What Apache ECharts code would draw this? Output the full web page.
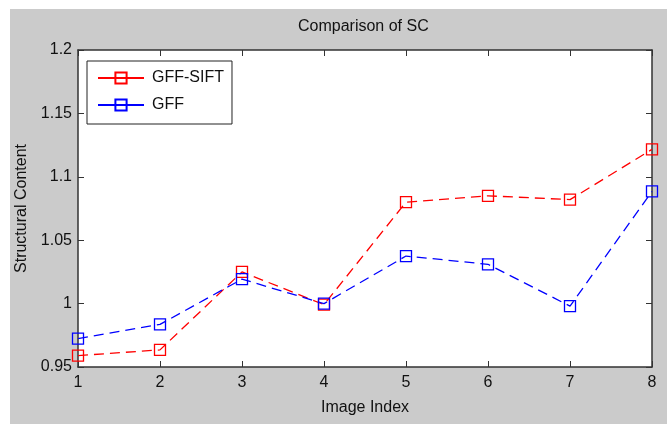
<!DOCTYPE html>
<html>
<head>
<meta charset="utf-8">
<script src="https://cdn.jsdelivr.net/npm/echarts@6/dist/echarts.min.js"></script>
<style>
  html, body { margin: 0; padding: 0; background: #fff; }
  #chart { position: absolute; left: 10px; top: 9px; width: 657px; height: 415px; }
</style>
</head>
<body>
<div id="chart"></div>
<script>
// image index on x, structural content on y
const imageIndex = ['1', '2', '3', '4', '5', '6', '7', '8']
const gffSift = [0.959, 0.9635, 1.025, 0.9992, 1.080, 1.085, 1.082, 1.1216]
const gff = [0.9724, 0.9836, 1.0193, 1.0, 1.0375, 1.031, 0.998, 1.0885]
const yTicks = { min: 0.95, max: 1.2, step: 0.05 }

const font = 'Liberation Sans, Arial, sans-serif'
const axisColor = '#333'

function scLine (name, data, color) {
  return {
    name: name,
    type: 'line',
    data: data,
    symbol: 'rect',
    symbolSize: 11,
    showSymbol: true,
    lineStyle: { color: color, width: 1.3, type: [10, 6] },
    itemStyle: { color: 'transparent', borderColor: color, borderWidth: 1.3 },
    emphasis: { disabled: true },
    animation: false
  }
}

const chart = echarts.init(document.getElementById('chart'))
chart.setOption({
  backgroundColor: '#cbcbcb',
  textStyle: { fontFamily: font },
  title: {
    text: 'Comparison of SC',
    left: 288,
    top: 10,
    padding: 0,
    textStyle: { fontFamily: font, fontSize: 16, fontWeight: 'normal', color: '#111' }
  },
  legend: {
    left: 77,
    top: 52,
    orient: 'vertical',
    backgroundColor: '#fff',
    borderColor: '#222',
    borderWidth: 1,
    borderRadius: 0,
    padding: [9, 8, 11, 10],
    itemWidth: 46,
    itemHeight: 14,
    itemGap: 11,
    lineStyle: { type: 'solid' },
    textStyle: { fontFamily: font, fontSize: 16, color: '#111', padding: [0, 0, 0, 3] },
    data: ['GFF-SIFT', 'GFF']
  },
  grid: {
    left: 68, right: 15, top: 41, bottom: 57,
    outerBoundsMode: 'none',
    containLabel: false,
    backgroundColor: '#fff', show: true, borderWidth: 0
  },
  xAxis: [
    {
      type: 'category',
      data: imageIndex,
      boundaryGap: false,
      name: 'Image Index',
      nameLocation: 'middle',
      nameGap: 33,
      nameTextStyle: { fontFamily: font, fontSize: 16, color: '#111' },
      axisLine: { lineStyle: { color: axisColor, width: 1.5 } },
      axisTick: { inside: true, length: 6, lineStyle: { color: axisColor } },
      axisLabel: { fontFamily: font, fontSize: 16, color: '#111', margin: 8 },
      splitLine: { show: false }
    },
    {
      type: 'category',
      data: imageIndex,
      boundaryGap: false,
      position: 'top',
      axisLine: { lineStyle: { color: axisColor, width: 1.5 } },
      axisTick: { inside: true, length: 6, lineStyle: { color: axisColor } },
      axisLabel: { show: false },
      splitLine: { show: false }
    }
  ],
  yAxis: [
    {
      type: 'value',
      min: yTicks.min,
      max: yTicks.max,
      interval: yTicks.step,
      name: 'Structural Content',
      nameLocation: 'middle',
      nameGap: 47,
      nameTextStyle: { fontFamily: font, fontSize: 16, color: '#111' },
      axisLine: { show: true, lineStyle: { color: axisColor, width: 1.5 } },
      axisTick: { show: true, inside: true, length: 6, lineStyle: { color: axisColor } },
      axisLabel: {
        fontFamily: font, fontSize: 16, color: '#111', margin: 6,
        formatter: v => String(parseFloat(v.toFixed(2)))
      },
      splitLine: { show: false }
    },
    {
      type: 'value',
      min: yTicks.min,
      max: yTicks.max,
      interval: yTicks.step,
      position: 'right',
      axisLine: { show: true, lineStyle: { color: axisColor, width: 1.5 } },
      axisTick: { show: true, inside: true, length: 6, lineStyle: { color: axisColor } },
      axisLabel: { show: false },
      splitLine: { show: false }
    }
  ],
  series: [
    scLine('GFF-SIFT', gffSift, '#ff0000'),
    scLine('GFF', gff, '#0000ff')
  ]
})
</script>
</body>
</html>
